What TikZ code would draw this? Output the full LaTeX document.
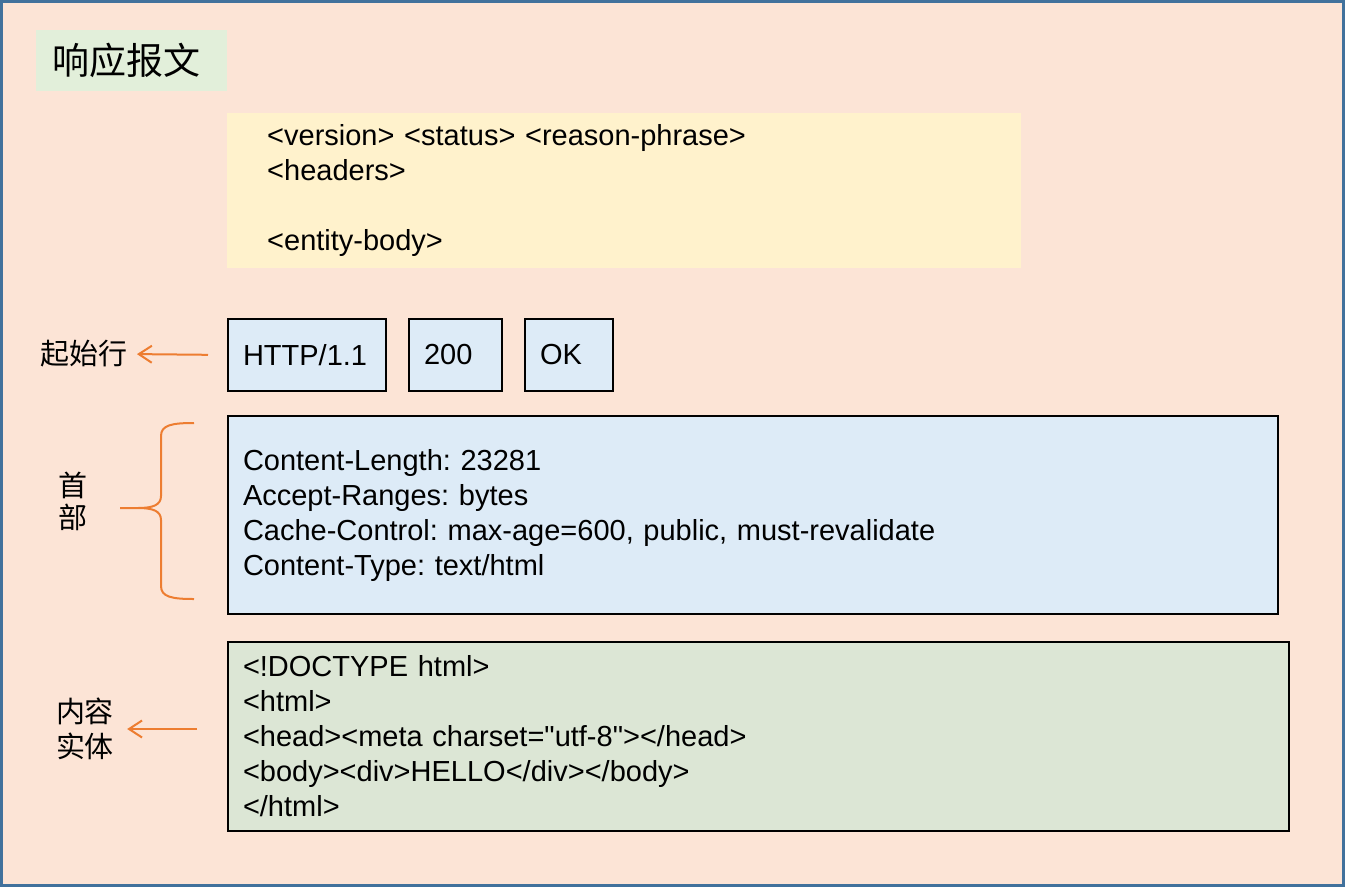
\documentclass[tikz,border=0pt]{standalone}
\usepackage{fontspec}
\setmainfont{Liberation Sans}
\newfontfamily\cjk{Noto Sans CJK SC}
\usetikzlibrary{arrows.meta,positioning}
\definecolor{peach}{HTML}{FCE4D6}
\definecolor{frameblue}{HTML}{41719C}
\definecolor{titlegreen}{HTML}{E2EFDA}
\definecolor{syntaxyellow}{HTML}{FFF2CC}
\definecolor{fieldblue}{HTML}{DDEBF7}
\definecolor{bodygreen}{HTML}{DCE6D5}
\definecolor{accent}{HTML}{ED7D31}

\begin{document}
\begin{tikzpicture}[x=1pt, y=-1pt,
    font=\fontsize{29}{35}\selectfont\frenchspacing,
    msgbox/.style={draw=black, line width=2pt, anchor=north west, align=left,
      inner xsep=15pt, inner ysep=0pt},
    sidelabel/.style={font=\cjk\fontsize{29}{35}\selectfont, inner sep=0pt, align=center},
    pointer/.style={-{Straight Barb[length=13pt,width=17pt]}, accent, line width=2pt}]
  \useasboundingbox (0,0) rectangle (1345,887);
  \draw[frameblue, line width=3pt, fill=peach] (1.5,1.5) rectangle (1343.5,885.5);

  % title and syntax
  \node[fill=titlegreen, anchor=north west, text width=159pt, inner xsep=16pt,
    minimum height=61pt, align=left, font=\cjk\fontsize{37}{40}\selectfont]
    (title) at (36,30) {响应报文};
  \node[fill=syntaxyellow, anchor=north west, text width=714pt, inner xsep=40pt,
    inner ysep=0pt, minimum height=155pt, align=left] (syntax) at (227,113)
    {<version> <status> <reason-phrase>\\<headers>\\\mbox{}\\<entity-body>};

  % start line
  \foreach \nm/\x/\w/\txt in {http/227/128/{HTTP/1.1}, code/408/63/200, reason/524/58/OK}{
    \node[msgbox, fill=fieldblue, text width=\w pt, minimum height=72pt] (\nm) at (\x,318) {\txt};
  }
  \node[sidelabel, anchor=east] (startlbl) at (128,354) {起始行};
  \draw[pointer, shorten <=19pt, shorten >=9pt] (http.west) -- (startlbl.east);

  % headers
  \node[msgbox, fill=fieldblue, text width=1020pt, minimum height=198pt] (headers) at (227,415)
    {Content-Length: 23281\\Accept-Ranges: bytes\\Cache-Control: max-age=600, public, must-revalidate\\Content-Type: text/html};
  \node[sidelabel, font=\cjk\fontsize{29}{32}\selectfont] (headlbl) at (73,501) {首\\部};
  \draw[accent, line width=2pt] (194,423) .. controls (172,423) and (161,425) .. (161,436)
    -- (161,496) .. controls (161,505) and (153,508) .. (138,508) -- (120,508)
    (138,508) .. controls (153,508) and (161,511) .. (161,520)
    -- (161,586) .. controls (161,597) and (172,599) .. (194,599);

  % entity body
  \node[msgbox, fill=bodygreen, text width=1031pt, minimum height=189pt] (body) at (227,641)
    {<!DOCTYPE html>\\<html>\\<head><meta charset=\textquotedbl utf-8\textquotedbl></head>\\<body><div>HELLO</div></body>\\</html>};
  \node[sidelabel] (bodylbl) at (85,729) {内容\\实体};
  \draw[pointer, shorten <=30pt, shorten >=13pt] (body.west |- bodylbl.east) -- (bodylbl.east);
\end{tikzpicture}
\end{document}
